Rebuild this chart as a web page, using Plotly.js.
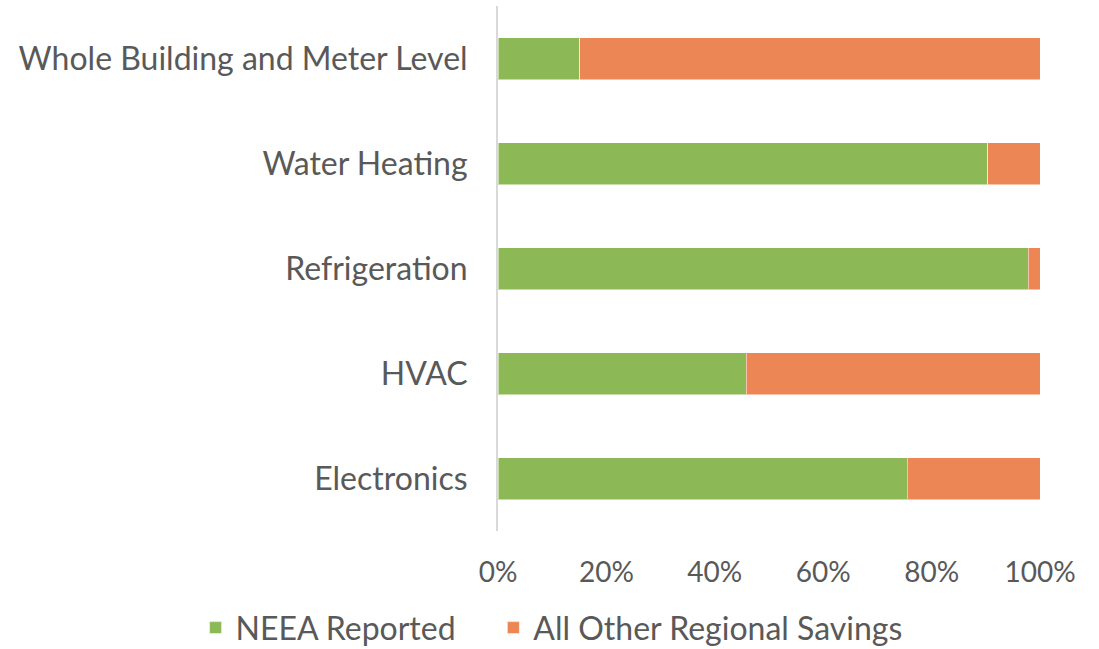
<!DOCTYPE html>
<html><head><meta charset="utf-8">
<script src="https://cdn.plot.ly/plotly-3.0.1.min.js"></script>
<style>html,body{margin:0;padding:0;background:#fff}</style>
</head><body>
<div id="chart" style="width:1099px;height:649px"></div>
<script>
const categories = ["Electronics", "HVAC", "Refrigeration", "Water Heating", "Whole Building and Meter Level"];
const neeaReported = [0.755, 0.458, 0.978, 0.904, 0.151];
const allOtherRegional = [0.245, 0.542, 0.022, 0.096, 0.849];
const tickVals = [0, 0.2, 0.4, 0.6, 0.8, 1.0];
const tickText = ["0%", "20%", "40%", "60%", "80%", "100%"];
const seriesNames = ["NEEA Reported", "All Other Regional Savings"];

const fontFam = "Lato, 'DejaVu Sans', sans-serif";
const pad = "\u00a0\u00a0\u00a0\u00a0";
const traces = [
  {type: "bar", orientation: "h", name: seriesNames[0] + pad, y: categories, x: neeaReported,
   marker: {color: "#8CB956", line: {color: "rgba(255,255,255,0.5)", width: 1}}, width: 0.4, hoverinfo: "x+y"},
  {type: "bar", orientation: "h", name: seriesNames[1], y: categories, x: allOtherRegional,
   marker: {color: "#EC8654", line: {color: "rgba(255,255,255,0.5)", width: 1}}, width: 0.4, hoverinfo: "x+y"}
];
const layout = {
  width: 1099, height: 649,
  barmode: "stack",
  margin: {l: 498, r: 59, t: 6, b: 118, autoexpand: false},
  paper_bgcolor: "#fff", plot_bgcolor: "#fff",
  font: {family: fontFam, size: 32, color: "#595959"},
  xaxis: {range: [0, 1], tickvals: tickVals, ticktext: tickText, showgrid: false, zeroline: false,
          showline: false, ticks: "", ticklen: 0, ticklabelstandoff: 22, tickfont: {size: 28, color: "#595959"}},
  yaxis: {categoryorder: "array", categoryarray: categories, showgrid: false, zeroline: false,
          showline: true, linecolor: "#D9D9D9", linewidth: 2, ticks: "", ticklabelstandoff: 22,
          tickfont: {size: 32, color: "#595959"}},
  showlegend: true,
  legend: {orientation: "h", x: -0.558, xanchor: "left", xref: "paper", y: -0.1844, yanchor: "middle", yref: "paper",
           font: {size: 32, color: "#595959"}, traceorder: "normal", itemwidth: 30},
  bargap: 0.6
};
Plotly.newPlot("chart", traces, layout, {displayModeBar: false, staticPlot: true});
</script>
</body></html>
